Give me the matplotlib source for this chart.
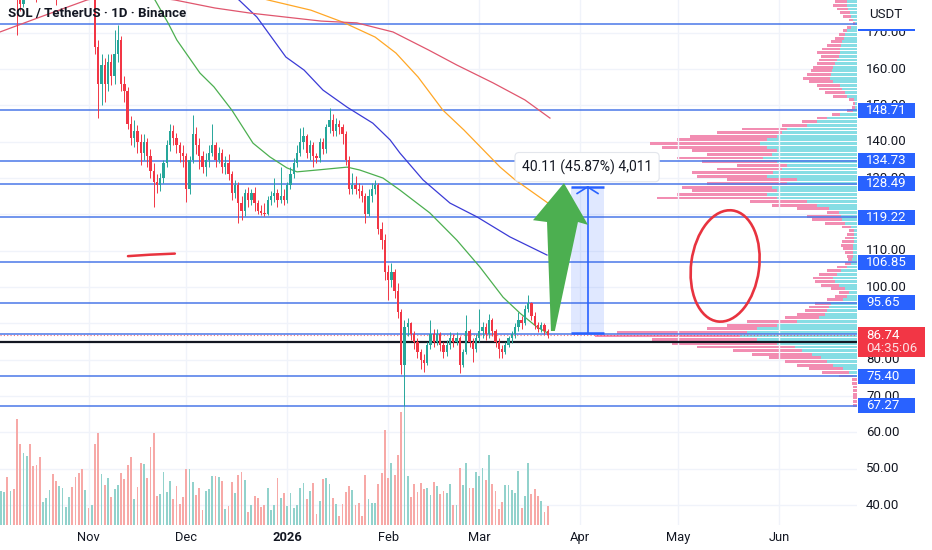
import numpy as np
import matplotlib
matplotlib.use("Agg")
import matplotlib.pyplot as plt
from matplotlib.patches import Polygon, Rectangle, Ellipse
from matplotlib.transforms import IdentityTransform, blended_transform_factory

plt.rcParams["font.family"] = ["Roboto", "DejaVu Sans"]

# ---------------- data (days counted from 1 Nov 2025) ----------------
first_day = -27
first_open = 224.0
closes = [
    228, 232, 222, 225, 218, 181, 178, 194, 202, 199, 193, 186, 184, 188, 193, 196, 192, 188,
    190, 193, 196, 199, 198, 195, 194, 187, 188,
    186, 187, 166, 156, 161, 156, 162, 158, 164, 168,
    156, 154, 145, 141, 143, 140, 137, 140, 136, 132,
    129, 128, 130, 134, 139, 143, 141, 139, 137, 136,
    127, 135, 142, 139, 136, 133, 135, 137, 139, 135,
    137, 133, 134, 131, 126, 128, 123, 121, 126, 124,
    126, 123, 121, 120.5, 120, 124, 125, 126, 124, 125,
    124, 128, 131, 134, 137, 140, 141.5, 137, 139, 136,
    135.5, 140, 138, 144, 146, 143, 145, 144, 142, 135,
    127, 128, 127, 126.5, 125, 120, 125, 127,
    128, 116, 113, 104, 102, 104, 99, 93, 78.5, 89,
    90, 87, 85, 82, 80, 79, 84, 87, 85, 87, 84, 82, 84, 86, 85, 86, 78.5, 82,
    88, 85, 83, 86, 88, 89, 87, 91, 88, 85, 83, 82, 84, 86, 87, 89, 91, 90,
    94, 95.5, 92, 89.5, 88.5, 89.5, 88, 86.74,
]
highs = [
    233, 238, 234, 228, 228, 222, 188, 196, 206, 208, 203, 195, 189, 191, 195, 198, 198, 194,
    193, 196, 199, 203, 202, 200, 198, 196, 191,
    190, 189, 188, 168, 164, 163, 164, 164, 170.7, 172,
    169, 158, 155, 147, 146, 144.5, 142, 142, 141, 138,
    134, 131, 131.5, 135, 140.5, 145, 144.5, 142.5, 140, 139,
    137, 136, 147.3, 144, 141, 137.5, 137, 139, 145, 140,
    138.5, 138, 136, 136.5, 132, 129.5, 129, 125, 127, 127.5,
    127, 127.5, 124, 122.5, 123, 125, 126.5, 130, 127, 133,
    127, 129, 133, 135.5, 139, 143.8, 144, 142, 140.5, 140,
    137, 141, 141, 145, 149.3, 147.5, 146.5, 146, 145, 143,
    136, 131.5, 130.5, 128.5, 128, 126, 127, 128.5,
    129.5, 128.5, 118, 114.5, 106, 106.5, 105, 101, 94, 91,
    91.5, 90.5, 88, 86, 83, 81.5, 85, 91, 88.5, 88.5, 87.5, 85, 85.5, 87.5, 87, 87.5, 86.5, 83,
    92.3, 88.5, 86, 87, 94, 90.5, 90, 92.5, 91.5, 88.5, 86, 84, 85, 86.5, 88, 90, 93, 92,
    95, 97.8, 96, 93, 90.5, 90.5, 90, 88.5,
]
lows = [
    221, 226, 219, 219, 215, 169.5, 176, 177, 192, 196, 189, 178.5, 180.5, 182, 186, 190, 188, 177.6,
    184, 187, 190, 194, 193, 190, 189, 184, 183,
    182, 183, 164, 146.5, 150, 151, 154, 155.5, 156, 162,
    154, 151, 143.5, 139, 138.5, 137, 133.5, 135, 133, 130,
    122, 126, 126.5, 128.5, 133, 137.5, 139, 137, 134.5, 133,
    123.4, 125.5, 134, 136.5, 132.5, 131.5, 130.5, 133, 136, 133,
    134, 131.5, 131, 129.5, 124, 124.5, 117.6, 118.5, 119.5, 122,
    122.5, 121, 120, 119.8, 119.5, 119.8, 122.5, 123.5, 122, 123,
    122.5, 123, 127, 130, 133, 136, 138, 135.5, 135, 133,
    134, 134.5, 136.5, 137, 142.5, 141.5, 141.5, 142, 139.5, 133.5,
    125.5, 125.5, 125.5, 124.5, 123.5, 117.5, 119.5, 123.5,
    125.5, 114.5, 110.5, 102, 96.4, 100, 97, 91.5, 76, 67.3,
    86.5, 85.5, 83, 80.5, 77.5, 76.6, 78.5, 83, 83.5, 84, 82.5, 80.5, 81, 83, 83.5, 84, 76.3, 78,
    81.5, 83.5, 79.5, 82, 85, 86, 85.5, 86, 86.5, 83.5, 80.5, 80.5, 81.5, 83.5, 84.5, 86, 88, 88.5,
    89.5, 93, 91, 88.5, 87.5, 87.5, 87, 86,
]
volumes = [
    34, 33, 48, 34, 36, 106, 81, 72, 69, 81,
    59, 60, 68, 23, 27, 35, 51, 44, 39, 37,
    18, 28, 38, 48, 52, 56, 35, 17, 20, 81,
    92, 51, 40, 47, 28, 36, 40, 52, 46, 60,
    68, 26, 38, 62, 61, 47, 78, 92, 29, 31,
    53, 33, 44, 26, 39, 21, 28, 56, 56, 43,
    30, 37, 15, 34, 36, 49, 49, 48, 44, 16,
    19, 43, 32, 50, 53, 45, 13, 20, 29, 27,
    18, 20, 37, 15, 20, 47, 27, 32, 19, 32,
    17, 20, 37, 42, 26, 34, 42, 11, 24, 46,
    47, 41, 27, 21, 9, 21, 33, 39, 35, 20,
    22, 9, 50, 26, 22, 22, 41, 52, 95, 47,
    62, 50, 70, 113, 118, 49, 28, 41, 33, 42,
    36, 37, 30, 43, 39, 31, 34, 32, 41, 20,
    20, 57, 40, 62, 37, 37, 53, 49, 57, 45,
    70, 41, 34, 16, 23, 40, 40, 35, 32, 54,
    17, 29, 62, 31, 36, 29, 24, 13, 19,
]

# moving averages, read at a few dates
ma_green_days = [18.9, 20.4, 24.4, 27.1, 34.2, 38.5, 44.0, 50.5, 55.7, 60.9, 64.0, 70.1,
                 79.4, 83.3, 90.4, 95.6, 104.8, 113.1, 120.2, 127.3, 132.5, 137.7, 141.1]
ma_green_vals = [180.4, 179, 172.7, 168, 158.9, 155.1, 148.7, 139.6, 135.8, 132.8, 131.7, 132.2,
                 133.0, 132.2, 130.0, 126.7, 120.4, 112.9, 105.5, 97.2, 92.8, 89.0, 87.3]
ma_blue_days = [41.9, 46.2, 51.7, 60.6, 66.2, 72.0, 79.4, 87.3, 92.6, 95.6, 102.7, 111.0,
                119.3, 129.4, 140.8]
ma_blue_vals = [181.8, 179, 174.3, 163.3, 159.7, 154.2, 149.5, 145.1, 140.5, 136.9, 129.5, 123.1,
                119.3, 113.8, 108.8]
ma_orange_days = [43.4, 55.1, 68.3, 78.1, 88.0, 94.4, 101.2, 108.8, 115.3, 126.4, 131.0, 141.1]
ma_orange_vals = [181.8, 179, 176.2, 172.9, 168.8, 164.4, 157.8, 148.7, 143.2, 133.0, 129.5, 123.1]
ma_red_days = [-27.2, -14.9, -0.5, 10, 26.5, 38.8, 49.6, 71.4, 82.4, 93.5, 104.5, 113.1,
               124.2, 134.0, 141.7]
ma_red_vals = [170.2, 174.3, 179, 181, 179, 176.8, 175.4, 173.2, 172.7, 170.2, 165.2, 161.1,
               156.2, 151.5, 146.5]

level_lines = [148.71, 134.73, 128.49, 119.22, 106.85, 95.65, 87.07, 75.40, 67.27]
top_level = 172.4
support_line = 85.0
last_price = 86.74
countdown = "04:35:06"

grid_prices = [40, 50, 60, 70, 80, 90, 100, 110, 120, 130, 140, 150, 160, 170]
tick_label_prices = [170, 160, 150, 140, 130, 110, 100, 80, 70, 60, 50, 40]
month_days = [0, 30, 61, 92, 120, 151, 181, 212]
month_labels = ["Nov", "Dec", "2026", "Feb", "Mar", "Apr", "May", "Jun"]

# visible range volume profile, one row per 1 USDT starting at 67
profile_low = 67
profile_total = [
    4, 4, 4, 4, 4, 4, 5, 5,
    18, 35, 48, 60, 72, 88, 105, 124,
    160, 185, 205, 262, 240, 150, 130, 110,
    72, 60, 52, 48, 42, 30, 22, 18,
    26, 36, 42, 44, 38, 30, 20, 12,
    9, 10, 12, 14, 16, 15, 12, 10,
    8, 15, 32, 45, 50, 30, 60, 85,
    107, 200, 180, 165, 175, 150, 130, 160,
    165, 140, 120, 155, 180, 150, 165, 195,
    207, 180, 167, 140, 115, 75, 55, 40,
    25, 10, 5, 4, 8, 24, 32, 38,
    40, 48, 54, 50, 46, 44, 40, 38,
    36, 40, 35, 30, 26, 22, 18, 14,
    10, 4, 8, 14, 17, 20, 24, 22,
]
profile_up = [
    0, 0, 0, 0, 0, 0, 0, 0,
    4, 8, 14, 24, 30, 36, 45, 55,
    62, 80, 100, 117, 110, 100, 80, 60,
    38, 32, 30, 28, 26, 14, 10, 8,
    12, 18, 22, 24, 20, 16, 10, 6,
    5, 4, 4, 4, 4, 3, 3, 3,
    3, 6, 12, 15, 16, 18, 28, 40,
    50, 80, 90, 80, 85, 70, 60, 90,
    84, 75, 70, 80, 94, 85, 80, 90,
    97, 90, 80, 75, 70, 50, 40, 30,
    17, 4, 2, 2, 3, 10, 12, 15,
    17, 24, 27, 26, 25, 24, 22, 20,
    18, 17, 17, 16, 15, 13, 12, 10,
    6, 2, 4, 6, 7, 9, 10, 10,
]

# drawings
measure_days = (148.2, 158.3)
measure_from, measure_to = 87.44, 127.55
measure_text = "40.11 (45.87%) 4,011"
measure_label_pos = (153.1, 133.0)
green_arrow = [(142.0, 87.9), (140.8, 117.9), (136.5, 118.4), (146.0, 128.6),
               (153.4, 117.1), (150.3, 117.9), (143.2, 87.9)]
red_dash_days = [12.1, 18.9, 26.5]
red_dash_vals = [108.5, 108.9, 109.2]
circle_center = (195.5, 105.8)

# ---------------- layout ----------------
XLIM = (-27.2, 236.0)
YLIM = (34.5, 179.0)
UP, DOWN = "#26a69a", "#f23645"
VOL_UP, VOL_DOWN = "#92d2cc", "#f7a9a7"
BLUE = "#2962ff"
LEVEL = "#4a78e8"
TXT = "#131722"
GRID = "#f0f3fa"

fig = plt.figure(figsize=(9.32, 5.5), dpi=100, facecolor="white")
rect = [0, 25 / 550, 857 / 932, 525 / 550]
ax = fig.add_axes(rect, zorder=3)
ax_vol = fig.add_axes(rect, zorder=2, sharex=ax)
ax_vp = fig.add_axes(rect, zorder=1, sharey=ax)
for a in (ax, ax_vol, ax_vp):
    for s in a.spines.values():
        s.set_visible(False)
ax.patch.set_visible(False)
ax_vol.patch.set_visible(False)
ax_vp.set_facecolor("white")

ax.set_xlim(*XLIM)
ax.set_ylim(*YLIM)

days = np.arange(first_day, first_day + len(closes))
closes_a = np.array(closes, dtype=float)
opens = np.r_[first_open, closes_a[:-1]]
rising = closes_a >= opens
colors = np.where(rising, UP, DOWN)

# grid
for p in grid_prices:
    ax_vp.axhline(p, color=GRID, lw=1, zorder=0)
for d in month_days:
    ax_vol.axvline(d, color=GRID, lw=1, zorder=0)

# volume profile anchored at the right edge
ax_vp.set_xlim(857, 0)
rows = profile_low + 0.5 + np.arange(len(profile_total))
ax_vp.barh(rows, profile_total, height=0.78, left=0, color="#f28db2", zorder=1)
ax_vp.barh(rows, profile_up, height=0.78, left=0, color="#86dde4", zorder=2)
ax_vp.set_xticks([])
ax_vp.tick_params(left=False, labelleft=False)

# volume
ax_vol.bar(days, volumes, width=0.55, color=np.where(rising, VOL_UP, VOL_DOWN), zorder=1)
ax_vol.set_ylim(0, 525)
ax_vol.set_yticks([])
ax_vol.tick_params(axis="x", length=0, labelbottom=False)

# levels
ax.axhline(top_level, color=LEVEL, lw=1.1, zorder=1)
for lvl in level_lines:
    ax.axhline(lvl, color=LEVEL, lw=1.1, zorder=1)
ax.axhline(support_line, color=TXT, lw=1.6, zorder=1)
ax.axhline(last_price, color=DOWN, lw=0.8, ls=(0, (1, 2)), alpha=0.7, zorder=1)

# moving averages
ax.plot(ma_green_days, ma_green_vals, color="#4caf50", lw=0.9, zorder=2)
ax.plot(ma_blue_days, ma_blue_vals, color="#3b3bd6", lw=0.9, zorder=2)
ax.plot(ma_orange_days, ma_orange_vals, color="#ffa726", lw=0.9, zorder=2)
ax.plot(ma_red_days, ma_red_vals, color="#e0566e", lw=0.9, zorder=2)

# candles
ax.vlines(days, lows, highs, colors=colors, lw=0.7, zorder=3)
body_low = np.minimum(opens, closes_a)
body_h = np.maximum(np.abs(closes_a - opens), 0.3)
ax.bar(days, body_h, bottom=body_low, width=0.7, color=colors, lw=0, zorder=4)

# measuring tool
ax.add_patch(Rectangle((measure_days[0], measure_from), measure_days[1] - measure_days[0],
                       measure_to - measure_from, fc=BLUE, alpha=0.14, lw=0, zorder=4))
ax.hlines([measure_from, measure_to], measure_days[0], measure_days[1], color=BLUE, lw=1.8, zorder=5)
mid = (measure_days[0] + measure_days[1]) / 2
ax.plot([mid, mid], [measure_from, measure_to], color=BLUE, lw=1.2, zorder=5)
ax.plot([mid - 3.2, mid, mid + 3.2], [measure_to - 1.8, measure_to, measure_to - 1.8],
        color=BLUE, lw=1.2, zorder=5)
ax.text(*measure_label_pos, measure_text, ha="center", va="center", fontsize=10, color=TXT,
        zorder=7, bbox=dict(boxstyle="round,pad=0.5,rounding_size=0.3", fc="white",
                            ec="#e3e6ec", lw=0.8))

# hand drawings
ax.add_patch(Polygon(green_arrow, closed=True, fc="#4caf50", ec="none", zorder=6))
ax.plot(red_dash_days, red_dash_vals, color="#e8333f", lw=1.8, solid_capstyle="round", zorder=6)

ax.set_xticks(month_days, labels=month_labels)
ax.tick_params(axis="x", length=0, pad=4, labelsize=9.3, labelcolor=TXT)
ax.get_xticklabels()[2].set_fontweight("bold")
ax.tick_params(axis="y", left=False, labelleft=False)
ax.set_xlim(*XLIM)
ax.set_ylim(*YLIM)

cx, cy = ax.transData.transform(circle_center)
fig.add_artist(Ellipse((cx, cy), 112, 68, angle=82.4, transform=IdentityTransform(),
                       fill=False, ec="#e8333f", lw=1.9, zorder=10))

# ---------------- price scale ----------------
ax_ps = fig.add_axes([857 / 932, 25 / 550, 75 / 932, 525 / 550], zorder=4)
ax_ps.set_xlim(0, 75)
ax_ps.set_ylim(*YLIM)
ax_ps.axis("off")
ppu = 525 / (YLIM[1] - YLIM[0])  # pixels per USDT
box_h = 15 / ppu

for t in tick_label_prices:
    ax_ps.text(9, t, f"{t:.2f}", color=TXT, fontsize=9.5, va="center", ha="left", zorder=1)
for lvl in [top_level] + level_lines:
    ax_ps.add_patch(Rectangle((1, lvl - box_h / 2), 57, box_h, fc=BLUE, ec="none", zorder=2))
    if lvl != top_level:
        ax_ps.text(9, lvl, f"{lvl:.2f}", color="white", fontsize=9.5, va="center", ha="left", zorder=3)

ax_ps.add_patch(Rectangle((1, last_price - 21.7 / ppu), 67, 30 / ppu, fc=DOWN, ec="none", zorder=4))
ax_ps.text(9, last_price, f"{last_price:.2f}", color="white", fontsize=9.5, va="center", zorder=5)
ax_ps.text(9, last_price - 13.5 / ppu, countdown, color="#fde0e3", fontsize=9.5, va="center", zorder=5)

ax_ps.add_patch(Rectangle((0, 1 - 28.5 / 525), 1, 28.5 / 525, transform=ax_ps.transAxes,
                          fc="white", ec="none", zorder=6))
ax_ps.text(12, 1 - 15 / 525, "USDT", transform=blended_transform_factory(ax_ps.transData, ax_ps.transAxes),
           color=TXT, fontsize=9.5, va="center", zorder=7)

fig.text(8 / 932, 1 - 14 / 550, "SOL / TetherUS · 1D · Binance", fontsize=9.5, fontweight="bold",
         color=TXT, va="center", ha="left", zorder=20)

fig.savefig("out.png", dpi=100, facecolor="white")
